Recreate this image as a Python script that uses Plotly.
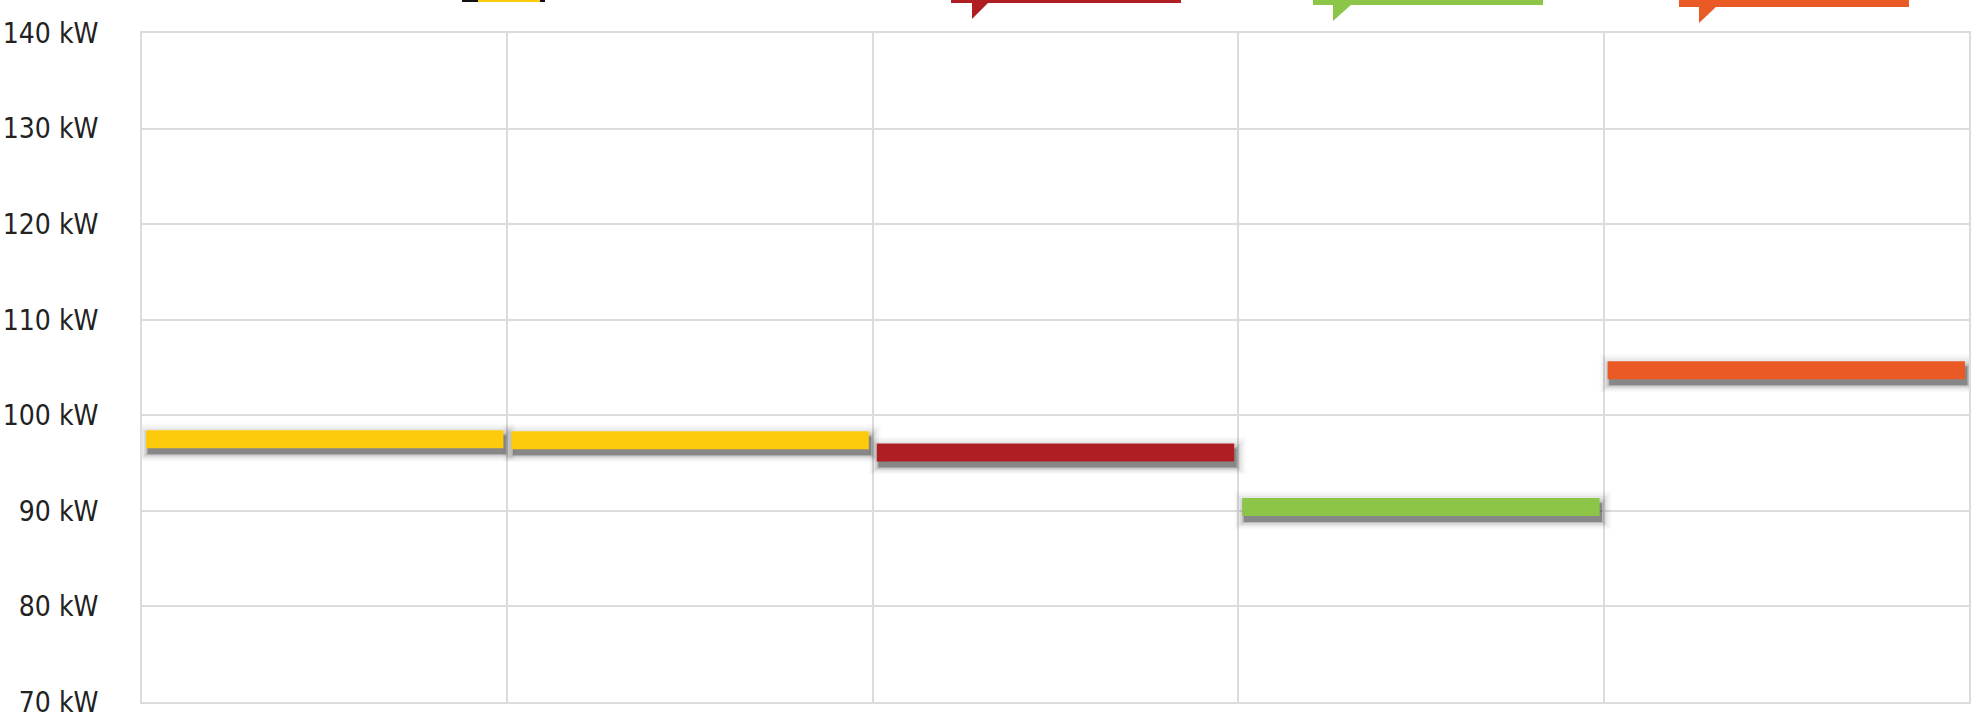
import plotly.graph_objects as go

# ---- data ----
segments = ["Segment 1", "Segment 2", "Segment 3", "Segment 4", "Segment 5"]
power_kw = [97.5, 97.4, 96.1, 90.4, 104.7]
seg_colors = ["#FDCB0B", "#FDCB0B", "#AE1E23", "#8DC549", "#E95A24"]
y_ticks = [70, 80, 90, 100, 110, 120, 130, 140]
y_tick_labels = [f"{v} kW" for v in y_ticks]

# page geometry (body margin removed below)
W, H = 1977, 723
PL, PR, PT, PB = 142, 1969, 33, 702   # plot area in page pixels
ML, MT, MR, MB = PL, PT, W - PR, H - PB
PW, PH = PR - PL, PB - PT
Y0, Y1 = 70, 140
px_per_kw = PH / (Y1 - Y0)
px_per_x = PW / len(segments)

fig = go.Figure()

inset = 4 / px_per_x
# soft shadows: (line width px, alpha, downward offset px)
shadow_layers = [(38, 0.02, 3), (34, 0.03, 3.5), (30, 0.045, 4), (26, 0.07, 4.5), (22, 0.12, 5), (19, 0.28, 5.5)]
for i, v in enumerate(power_kw):
    for w, a, dy in shadow_layers:
        dyk = dy / px_per_kw
        ext = (w - 18) / 2 / px_per_x
        dx = 2 / px_per_x
        fig.add_trace(go.Scatter(
            x=[i + inset + dx - ext, min(i + 1 - inset + dx + ext, len(segments))],
            y=[v - dyk, v - dyk], mode="lines",
            line=dict(color=f"rgba(0,0,0,{a})", width=w),
            hoverinfo="skip", showlegend=False))
# bars
for i, (name, v, c) in enumerate(zip(segments, power_kw, seg_colors)):
    fig.add_trace(go.Scatter(
        x=[i + inset, i + 1 - inset], y=[v, v], mode="lines",
        line=dict(color=c, width=18), name=name, showlegend=False,
        hovertemplate=f"{name}: %{{y}} kW<extra></extra>"))

def px(x):
    return (x - PL) / PW

def py(y):
    return (PB - y) / PH

shapes = []
# yellow top badge (mostly off-page)
shapes.append(dict(type="rect", xref="paper", yref="paper", x0=px(462), x1=px(545),
                   y0=py(2), y1=py(-60), fillcolor="#111111", line=dict(width=0), layer="above"))
shapes.append(dict(type="rect", xref="paper", yref="paper", x0=px(478), x1=px(540),
                   y0=py(2), y1=py(-60), fillcolor="#FDCB0B", line=dict(width=0), layer="above"))
# callouts: (left, right, bottom, tail_left, tail_right, tail_tip_y, color)
callouts = [
    (951, 1181, 3, 972, 989, 19, "#AE1E23"),
    (1313, 1543, 5, 1333, 1352, 21, "#8DC549"),
    (1679, 1909, 7, 1699, 1717, 23, "#E95A24"),
]
for l, r, b, tl, tr, tip, c in callouts:
    shapes.append(dict(type="rect", xref="paper", yref="paper", x0=px(l), x1=px(r),
                       y0=py(b), y1=py(-80), fillcolor=c, line=dict(width=0), layer="above"))
    path = (f"M {px(tl)} {py(b - 1)} L {px(tr)} {py(b - 1)} L {px(tl)} {py(tip)} Z")
    shapes.append(dict(type="path", xref="paper", yref="paper", path=path,
                       fillcolor=c, line=dict(width=0), layer="above"))

fig.update_layout(
    width=W, height=H,
    margin=dict(l=ML, r=MR, t=MT, b=MB, pad=0, autoexpand=False),
    paper_bgcolor="white", plot_bgcolor="white",
    font=dict(family="DejaVu Sans Condensed, Liberation Sans Narrow, Liberation Sans, sans-serif",
              size=28, color="#222222"),
    shapes=shapes,
    xaxis=dict(range=[0, len(segments)], tickvals=list(range(len(segments) + 1)),
               showticklabels=False, showgrid=True, gridcolor="#DCDCDC", gridwidth=2,
               zeroline=False, showline=True, mirror=True, linecolor="#DCDCDC", linewidth=2,
               ticks="", fixedrange=True, automargin=False),
    yaxis=dict(range=[Y0, Y1], tickvals=y_ticks, ticktext=y_tick_labels,
               showgrid=True, gridcolor="#DCDCDC", gridwidth=2, zeroline=False,
               showline=True, mirror=True, linecolor="#DCDCDC", linewidth=2,
               ticks="", ticklabelstandoff=36, fixedrange=True, automargin=False),
)

fig.write_html("out.html", config={"displayModeBar": False})

# remove the default 8px body margin so the figure fills the window exactly
with open("out.html", "r", encoding="utf-8") as f:
    html = f.read()
html = html.replace("<body>", '<body style="margin:0;overflow:hidden">', 1)
with open("out.html", "w", encoding="utf-8") as f:
    f.write(html)
